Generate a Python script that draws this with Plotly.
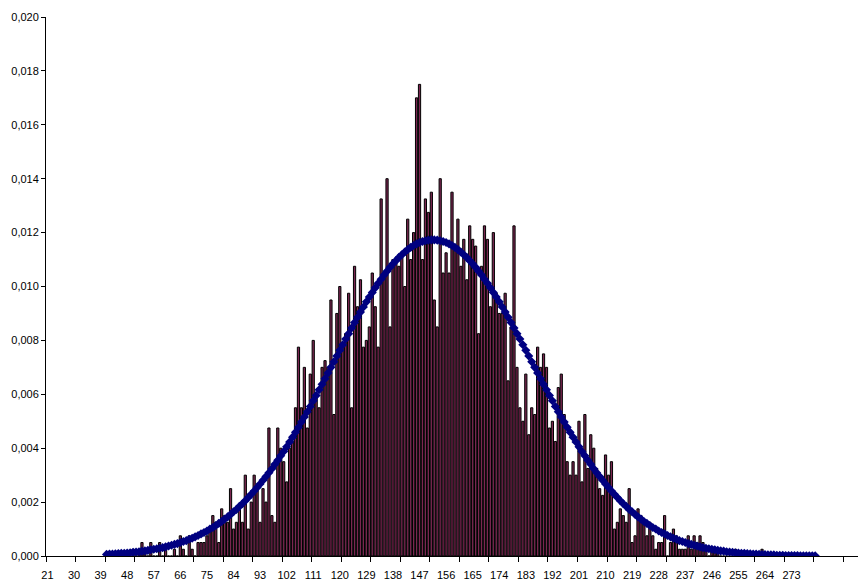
import plotly.graph_objects as go

# Histogram (relative frequency per class), classes 50..263
bar_density = [
    0.00025, 0, 0.00025, 0.0005, 0.00025, 0, 0.0005, 0, 0, 0.0005,
    0, 0.00025, 0, 0, 0.00025, 0, 0.00075, 0.00025, 0, 0.00075,
    0.00025, 0, 0.0005, 0.0005, 0.0005, 0.00075, 0.001, 0.0015, 0.00125, 0.0005,
    0.00175, 0.0015, 0.00125, 0.0025, 0.001, 0.00125, 0.00175, 0.00125, 0.003, 0.001,
    0.002, 0.003, 0.0025, 0.00125, 0.0025, 0.002, 0.00475, 0.0015, 0.00125, 0.00475,
    0.004, 0.0035, 0.00275, 0.004, 0.00425, 0.0055, 0.00775, 0.0055, 0.007, 0.00475,
    0.00675, 0.008, 0.006, 0.0055, 0.007, 0.00725, 0.007, 0.0095, 0.00525, 0.009,
    0.01, 0.00775, 0.00825, 0.00975, 0.0055, 0.01075, 0.00925, 0.01025, 0.00775, 0.008,
    0.0085, 0.0105, 0.00925, 0.00775, 0.01325, 0.0105, 0.014, 0.0085, 0.011, 0.011,
    0.01075, 0.01125, 0.01, 0.0125, 0.011, 0.012, 0.017, 0.0175, 0.011, 0.01325,
    0.01275, 0.0135, 0.0095, 0.0085, 0.014, 0.0105, 0.01125, 0.0105, 0.0135, 0.0115,
    0.0125, 0.01075, 0.01175, 0.01025, 0.01225, 0.01175, 0.0115, 0.00825, 0.01075, 0.01225,
    0.01175, 0.00925, 0.012, 0.00975, 0.009, 0.009, 0.00975, 0.0065, 0.0085, 0.01225,
    0.007, 0.0055, 0.005, 0.00675, 0.0045, 0.0055, 0.00525, 0.00775, 0.007, 0.0075,
    0.007, 0.00475, 0.005, 0.00425, 0.00625, 0.00675, 0.00525, 0.0035, 0.003, 0.0035,
    0.003, 0.005, 0.00275, 0.00525, 0.00325, 0.0045, 0.004, 0.00325, 0.0025, 0.00225,
    0.00375, 0.003, 0.0035, 0.001, 0.00125, 0.00175, 0.0015, 0.00125, 0.0025, 0.0005,
    0.00075, 0.00175, 0.0015, 0.00125, 0.00075, 0.00125, 0.00075, 0.00025, 0.0005, 0.0005,
    0.0015, 0, 0.0005, 0.001, 0.00075, 0.00025, 0.00025, 0.00025, 0.00075, 0.00025,
    0.00075, 0.0005, 0.00075, 0.0005, 0.00025, 0, 0.00025, 0.00025, 0.00025, 0,
    0, 0, 0, 0, 0.00025, 0, 0, 0, 0, 0,
    0, 0, 0, 0.00025,
]
bar_start = 50

# Fitted normal density, classes 41..281
curve_density = [
    0.00006, 0.00007, 0.00007, 0.00008, 0.00009, 0.0001, 0.0001, 0.00011, 0.00012, 0.00014,
    0.00015, 0.00016, 0.00018, 0.00019, 0.00021, 0.00023, 0.00025, 0.00027, 0.00029, 0.00031,
    0.00034, 0.00037, 0.0004, 0.00043, 0.00046, 0.0005, 0.00054, 0.00057, 0.00062, 0.00066,
    0.00071, 0.00076, 0.00082, 0.00087, 0.00093, 0.001, 0.00106, 0.00113, 0.00121, 0.00128,
    0.00137, 0.00145, 0.00154, 0.00164, 0.00173, 0.00184, 0.00194, 0.00205, 0.00217, 0.00229,
    0.00241, 0.00254, 0.00267, 0.00281, 0.00295, 0.00309, 0.00324, 0.0034, 0.00355, 0.00372,
    0.00388, 0.00405, 0.00423, 0.00441, 0.00459, 0.00478, 0.00497, 0.00516, 0.00535, 0.00555,
    0.00576, 0.00596, 0.00617, 0.00637, 0.00658, 0.00679, 0.007, 0.00721, 0.00742, 0.00763,
    0.00784, 0.00805, 0.00825, 0.00846, 0.00866, 0.00886, 0.00905, 0.00924, 0.00943, 0.00961,
    0.00978, 0.00995, 0.01012, 0.01027, 0.01043, 0.01057, 0.01071, 0.01084, 0.01096, 0.01108,
    0.01118, 0.01128, 0.01137, 0.01145, 0.01152, 0.01158, 0.01163, 0.01167, 0.0117, 0.01172, 0.01173,
    0.01173, 0.01172, 0.0117, 0.01167, 0.01163, 0.01158, 0.01152, 0.01145, 0.01137, 0.01128,
    0.01118, 0.01108, 0.01096, 0.01084, 0.01071, 0.01057, 0.01043, 0.01027, 0.01012, 0.00995,
    0.00978, 0.00961, 0.00943, 0.00924, 0.00905, 0.00886, 0.00866, 0.00846, 0.00825, 0.00805,
    0.00784, 0.00763, 0.00742, 0.00721, 0.007, 0.00679, 0.00658, 0.00637, 0.00617, 0.00596,
    0.00576, 0.00555, 0.00535, 0.00516, 0.00497, 0.00478, 0.00459, 0.00441, 0.00423, 0.00405,
    0.00388, 0.00372, 0.00355, 0.0034, 0.00324, 0.00309, 0.00295, 0.00281, 0.00267, 0.00254,
    0.00241, 0.00229, 0.00217, 0.00205, 0.00194, 0.00184, 0.00173, 0.00164, 0.00154, 0.00145,
    0.00137, 0.00128, 0.00121, 0.00113, 0.00106, 0.001, 0.00093, 0.00087, 0.00082, 0.00076,
    0.00071, 0.00066, 0.00062, 0.00057, 0.00054, 0.0005, 0.00046, 0.00043, 0.0004, 0.00037,
    0.00034, 0.00031, 0.00029, 0.00027, 0.00025, 0.00023, 0.00021, 0.00019, 0.00018, 0.00016,
    0.00015, 0.00014, 0.00012, 0.00011, 0.0001, 0.0001, 0.00009, 0.00008, 0.00007, 0.00007,
    0.00006, 0.00005, 0.00005, 0.00004, 0.00004, 0.00004, 0.00003, 0.00003, 0.00003, 0.00002,
    0.00002, 0.00002, 0.00002, 0.00002, 0.00001, 0.00001, 0.00001, 0.00001, 0.00001, 0.00001,
]
curve_start = 41

x_label_values = [21, 30, 39, 48, 57, 66, 75, 84, 93, 102, 111, 120, 129, 138, 147,
                  156, 165, 174, 183, 192, 201, 210, 219, 228, 237, 246, 255, 264, 273]
y_tick_values = [0, 0.002, 0.004, 0.006, 0.008, 0.010, 0.012, 0.014, 0.016, 0.018, 0.020]
y_tick_text = ["0,000", "0,002", "0,004", "0,006", "0,008", "0,010",
               "0,012", "0,014", "0,016", "0,018", "0,020"]

bar_x = list(range(bar_start, bar_start + len(bar_density)))
curve_x = list(range(curve_start, curve_start + len(curve_density)))

fig = go.Figure()
fig.add_trace(go.Bar(
    x=bar_x, y=bar_density,
    marker=dict(color="#7a2650", line=dict(color="black", width=1)),
    hoverinfo="x+y", showlegend=False,
))
fig.add_trace(go.Scatter(
    x=curve_x, y=curve_density, mode="markers",
    marker=dict(symbol="diamond", size=7, color="#000080", line=dict(width=0)),
    showlegend=False,
))

font = dict(family="Liberation Sans, Arial, sans-serif", size=11, color="black")
fig.update_layout(
    width=862, height=580,
    margin=dict(l=46, r=4, t=17, b=24),
    paper_bgcolor="white", plot_bgcolor="white",
    bargap=0.25,
    font=font,
)
fig.update_xaxes(
    range=[20.5, 295.5], automargin=False,
    tickmode="array", tickvals=x_label_values,
    ticktext=[str(v) for v in x_label_values],
    ticks="outside", ticklen=9, tickcolor="rgba(0,0,0,0)",
    minor=dict(tickmode="linear", tick0=20.5, dtick=10, ticks="outside",
               ticklen=5, tickcolor="black", tickwidth=1, showgrid=False),
    showline=True, linecolor="black", linewidth=1,
    showgrid=False, zeroline=False, tickfont=font, tickangle=0,
)
fig.update_yaxes(
    range=[0, 0.020], automargin=False,
    tickmode="array", tickvals=y_tick_values, ticktext=y_tick_text,
    ticks="outside", ticklen=4, tickcolor="black", tickwidth=1,
    showline=True, linecolor="black", linewidth=1,
    showgrid=False, zeroline=False, tickfont=font,
)

fig.write_html("out.html", config={"displayModeBar": False},
               post_script="document.body.style.margin='0';")
